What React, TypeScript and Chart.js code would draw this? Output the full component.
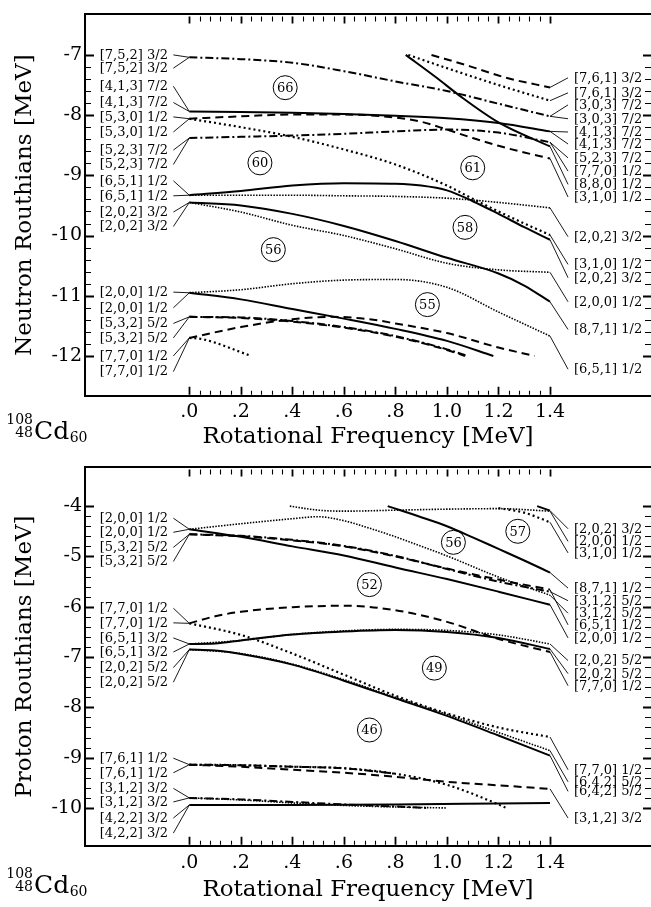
import React, { useEffect, useRef } from 'react';
import { Chart, registerables } from 'chart.js';
Chart.register(...registerables);

type P = [number, number];

// ---------- axes ----------
const X_TICKS = [0, 0.2, 0.4, 0.6, 0.8, 1.0, 1.2, 1.4];
const X_TICK_LABELS = ['.0', '.2', '.4', '.6', '.8', '1.0', '1.2', '1.4'];
const N_Y_TICKS = [-7, -8, -9, -10, -11, -12];
const N_Y_TICK_LABELS = ['-7', '-8', '-9', '-10', '-11', '-12'];
const P_Y_TICKS = [-4, -5, -6, -7, -8, -9, -10];
const P_Y_TICK_LABELS = ['-4', '-5', '-6', '-7', '-8', '-9', '-10'];

// ---------- neutron Routhians (omega, E) ----------
const N_752_DD: P[] = [[0, -7.04], [0.2, -7.07], [0.4, -7.13], [0.6, -7.27], [0.8, -7.44], [1.0, -7.60], [1.2, -7.81], [1.4, -8.02]];
const N_761_DA: P[] = [[0.94, -7.0], [1.09, -7.19], [1.23, -7.38], [1.4, -7.54]];
const N_761_DT: P[] = [[0.85, -7.0], [1.0, -7.22], [1.2, -7.50], [1.4, -7.76]];
const N_STEEP_SO: P[] = [[0.84, -7.0], [0.96, -7.38], [1.05, -7.68], [1.2, -8.12], [1.4, -8.52]];
const N_413_SO: P[] = [[0, -7.94], [0.2, -7.95], [0.4, -7.96], [0.6, -7.98], [0.8, -8.01], [1.0, -8.05], [1.2, -8.13], [1.4, -8.27]];
const N_530_DA: P[] = [[0, -8.06], [0.2, -8.02], [0.4, -7.99], [0.6, -7.99], [0.8, -8.04], [0.9, -8.11], [1.0, -8.24], [1.1, -8.38], [1.2, -8.51], [1.3, -8.62], [1.4, -8.72]];
const N_530_DT: P[] = [[0, -8.06], [0.2, -8.20], [0.4, -8.36], [0.6, -8.57], [0.8, -8.82], [1.0, -9.17], [1.1, -9.39], [1.2, -9.60], [1.3, -9.80], [1.4, -9.99]];
const N_523_DD: P[] = [[0, -8.38], [0.2, -8.36], [0.4, -8.34], [0.6, -8.31], [0.8, -8.27], [1.0, -8.24], [1.2, -8.29], [1.4, -8.45]];
const N_651_SO: P[] = [[0, -9.33], [0.2, -9.26], [0.4, -9.17], [0.6, -9.13], [0.8, -9.14], [0.9, -9.17], [1.0, -9.25], [1.1, -9.43], [1.2, -9.64], [1.3, -9.86], [1.4, -10.07]];
const N_651_FD: P[] = [[0, -9.33], [0.2, -9.33], [0.4, -9.33], [0.6, -9.34], [0.8, -9.35], [1.0, -9.38], [1.2, -9.45], [1.4, -9.54]];
const N_202_SO: P[] = [[0, -9.45], [0.2, -9.50], [0.4, -9.64], [0.6, -9.84], [0.8, -10.09], [1.0, -10.37], [1.2, -10.63], [1.3, -10.83], [1.4, -11.10]];
const N_202_FD: P[] = [[0, -9.45], [0.2, -9.61], [0.4, -9.83], [0.6, -10.00], [0.8, -10.22], [1.0, -10.46], [1.2, -10.57], [1.4, -10.61]];
const N_200_SO: P[] = [[0, -10.95], [0.2, -11.06], [0.4, -11.22], [0.6, -11.38], [0.8, -11.55], [1.0, -11.75], [1.18, -12.0]];
const N_200_FD: P[] = [[0, -10.95], [0.2, -10.90], [0.4, -10.80], [0.6, -10.74], [0.8, -10.73], [1.0, -10.86], [1.2, -11.27], [1.4, -11.67]];
const N_532_DD: P[] = [[0, -11.35], [0.2, -11.36], [0.4, -11.42], [0.6, -11.52], [0.8, -11.67], [1.0, -11.89], [1.08, -12.0]];
const N_532_DA: P[] = [[0, -11.35], [0.2, -11.37], [0.4, -11.43], [0.6, -11.53], [0.8, -11.68], [1.0, -11.90], [1.07, -12.0]];
const N_770_DA: P[] = [[0, -11.70], [0.2, -11.52], [0.4, -11.39], [0.55, -11.35], [0.7, -11.39], [0.8, -11.46], [1.0, -11.62], [1.2, -11.86], [1.34, -12.0]];
const N_770_DT: P[] = [[0, -11.70], [0.05, -11.72], [0.24, -12.0]];

// ---------- proton Routhians (omega, E) ----------
const P_200_SO: P[] = [[0, -4.46], [0.2, -4.61], [0.4, -4.80], [0.6, -4.98], [0.8, -5.22], [1.0, -5.45], [1.2, -5.70], [1.4, -5.96]];
const P_200_FD: P[] = [[0, -4.46], [0.2, -4.35], [0.4, -4.25], [0.5, -4.21], [0.6, -4.29], [0.7, -4.44], [0.8, -4.61], [1.0, -4.99], [1.2, -5.41], [1.4, -5.77]];
const P_UP_FD: P[] = [[0.39, -4.0], [0.5, -4.08], [0.6, -4.10], [0.8, -4.08], [1.0, -4.06], [1.2, -4.05], [1.4, -4.10]];
const P_UP_DT: P[] = [[1.2, -4.04], [1.3, -4.13], [1.4, -4.32]];
const P_UP_SO: P[] = [[1.35, -4.0], [1.4, -4.09]];
const P_871_SO: P[] = [[0.77, -4.0], [0.9, -4.22], [1.0, -4.40], [1.1, -4.62], [1.2, -4.85], [1.3, -5.08], [1.4, -5.32]];
const P_532_DD: P[] = [[0, -4.56], [0.2, -4.59], [0.4, -4.67], [0.6, -4.79], [0.8, -4.99], [1.0, -5.25], [1.2, -5.50], [1.4, -5.70]];
const P_532_DA: P[] = [[0, -4.56], [0.2, -4.60], [0.4, -4.68], [0.6, -4.80], [0.8, -5.00], [1.0, -5.24], [1.2, -5.46], [1.4, -5.66]];
const P_770_DA: P[] = [[0, -6.33], [0.1, -6.19], [0.2, -6.10], [0.4, -6.01], [0.6, -5.98], [0.8, -6.07], [1.0, -6.30], [1.2, -6.64], [1.4, -6.90]];
const P_770_DT: P[] = [[0, -6.33], [0.2, -6.56], [0.4, -6.93], [0.6, -7.35], [0.8, -7.77], [1.0, -8.12], [1.2, -8.40], [1.4, -8.59]];
const P_651_SO: P[] = [[0, -6.74], [0.1, -6.73], [0.2, -6.67], [0.4, -6.55], [0.6, -6.49], [0.8, -6.46], [1.0, -6.50], [1.2, -6.62], [1.4, -6.84]];
const P_651_FD: P[] = [[0, -6.74], [0.2, -6.67], [0.4, -6.55], [0.6, -6.48], [0.8, -6.45], [1.0, -6.47], [1.2, -6.56], [1.4, -6.74]];
const P_202_SO: P[] = [[0, -6.85], [0.1, -6.87], [0.2, -6.94], [0.4, -7.15], [0.6, -7.47], [0.8, -7.82], [1.0, -8.17], [1.2, -8.56], [1.4, -8.96]];
const P_202_FD: P[] = [[0, -6.85], [0.2, -6.93], [0.4, -7.14], [0.6, -7.45], [0.8, -7.80], [1.0, -8.14], [1.2, -8.50], [1.4, -8.86]];
const P_761_DT: P[] = [[0, -9.14], [0.2, -9.15], [0.4, -9.18], [0.6, -9.21], [0.8, -9.32], [1.0, -9.54], [1.2, -9.93], [1.23, -10.0]];
const P_761_DA: P[] = [[0, -9.14], [0.2, -9.18], [0.4, -9.24], [0.6, -9.30], [0.8, -9.38], [1.0, -9.48], [1.2, -9.55], [1.4, -9.62]];
const P_761_DD: P[] = [[0, -9.14], [0.2, -9.15], [0.4, -9.18], [0.6, -9.21], [0.8, -9.32]];
const P_312_DD: P[] = [[0, -9.80], [0.2, -9.83], [0.4, -9.88], [0.6, -9.93], [0.8, -9.97], [0.92, -10.0]];
const P_312_FD: P[] = [[0, -9.80], [0.2, -9.84], [0.4, -9.90], [0.6, -9.95], [0.8, -9.98], [1.0, -10.0]];
const P_422_SO: P[] = [[0, -9.94], [0.4, -9.94], [0.8, -9.93], [1.2, -9.91], [1.4, -9.90]];

// ---------- orbital labels ----------
const N_LEFT_TEXT = ['[7,5,2] 3/2', '[7,5,2] 3/2', '[4,1,3] 7/2', '[4,1,3] 7/2', '[5,3,0] 1/2', '[5,3,0] 1/2', '[5,2,3] 7/2', '[5,2,3] 7/2', '[6,5,1] 1/2', '[6,5,1] 1/2', '[2,0,2] 3/2', '[2,0,2] 3/2', '[2,0,0] 1/2', '[2,0,0] 1/2', '[5,3,2] 5/2', '[5,3,2] 5/2', '[7,7,0] 1/2', '[7,7,0] 1/2'];
const N_LEFT_SERIES = ['n752dd', 'n752dd', 'n413so', 'n413so', 'n530da', 'n530dt', 'n523dd', 'n523dd', 'n651so', 'n651fd', 'n202so', 'n202fd', 'n200so', 'n200fd', 'n532dd', 'n532da', 'n770da', 'n770dt'];
const N_RIGHT_TEXT = ['[7,6,1] 3/2', '[7,6,1] 3/2', '[3,0,3] 7/2', '[3,0,3] 7/2', '[4,1,3] 7/2', '[4,1,3] 7/2', '[5,2,3] 7/2', '[7,7,0] 1/2', '[8,8,0] 1/2', '[3,1,0] 1/2', '[2,0,2] 3/2', '[3,1,0] 1/2', '[2,0,2] 3/2', '[2,0,0] 1/2', '[8,7,1] 1/2', '[6,5,1] 1/2'];
const N_RIGHT_SERIES = ['n761da', 'n761dt', 'n752dd', 'n752dd', 'n413so', 'n413so', 'n523dd', 'n523dd', 'nsteep', 'n530da', 'n651fd', 'n530dt', 'n651so', 'n202fd', 'n202so', 'n200fd'];
const P_LEFT_TEXT = ['[2,0,0] 1/2', '[2,0,0] 1/2', '[5,3,2] 5/2', '[5,3,2] 5/2', '[7,7,0] 1/2', '[7,7,0] 1/2', '[6,5,1] 3/2', '[6,5,1] 3/2', '[2,0,2] 5/2', '[2,0,2] 5/2', '[7,6,1] 1/2', '[7,6,1] 1/2', '[3,1,2] 3/2', '[3,1,2] 3/2', '[4,2,2] 3/2', '[4,2,2] 3/2'];
const P_LEFT_SERIES = ['p200so', 'p200fd', 'p532dd', 'p532da', 'p770da', 'p770dt', 'p651so', 'p651fd', 'p202so', 'p202fd', 'p761dt', 'p761da', 'p312dd', 'p312fd', 'p422so', 'p422so'];
const P_RIGHT_TEXT = ['[2,0,2] 3/2', '[2,0,0] 1/2', '[3,1,0] 1/2', '[8,7,1] 1/2', '[3,1,2] 5/2', '[3,1,2] 5/2', '[6,5,1] 1/2', '[2,0,0] 1/2', '[2,0,2] 5/2', '[2,0,2] 5/2', '[7,7,0] 1/2', '[7,7,0] 1/2', '[6,4,2] 5/2', '[6,4,2] 5/2', '[3,1,2] 3/2'];
const P_RIGHT_SERIES = ['pupso', 'pupfd', 'pupdt', 'p871so', 'p532dd', 'p200fd', 'p532da', 'p200so', 'p651fd', 'p651so', 'p770da', 'p770dt', 'p202fd', 'p202so', 'p761da'];

// particle numbers in circles
const N_CIRCLE_TEXT = ['66', '60', '61', '58', '56', '55'];
const P_CIRCLE_TEXT = ['57', '56', '52', '49', '46'];

// ---------- layout (label anchors in axis units, kept apart from values) ----------
const N_LEFT_AT = [-7.00, -7.22, -7.52, -7.79, -8.03, -8.28, -8.58, -8.82, -9.09, -9.34, -9.61, -9.85, -10.94, -11.20, -11.46, -11.70, -12.00, -12.26];
const N_RIGHT_AT = [-7.38, -7.63, -7.83, -8.06, -8.28, -8.48, -8.71, -8.93, -9.15, -9.36, -10.02, -10.48, -10.70, -11.10, -11.56, -12.22];
const P_LEFT_AT = [-4.24, -4.52, -4.82, -5.10, -6.03, -6.32, -6.62, -6.90, -7.21, -7.50, -9.01, -9.30, -9.61, -9.88, -10.20, -10.50];
const P_RIGHT_AT = [-4.45, -4.70, -4.93, -5.63, -5.88, -6.13, -6.36, -6.62, -7.07, -7.33, -7.57, -9.24, -9.48, -9.67, -10.20];
const N_CIRCLE_AT: P[] = [[0.372, -7.544], [0.274, -8.793], [1.100, -8.875], [1.070, -9.864], [0.326, -10.234], [0.924, -11.147]];
const P_CIRCLE_AT: P[] = [[1.275, -4.50], [1.025, -4.72], [0.699, -5.56], [0.951, -7.22], [0.699, -8.45]];

const FONT = "'DejaVu Serif', serif";

type Style = 'solid' | 'dash' | 'dot' | 'fine' | 'dashdot';
const STYLES: Record<Style, { borderWidth: number; borderDash: number[] }> = {
  solid: { borderWidth: 2, borderDash: [] },
  dash: { borderWidth: 2, borderDash: [8, 5] },
  dot: { borderWidth: 2.2, borderDash: [2, 3] },
  fine: { borderWidth: 1.6, borderDash: [1.5, 1.4] },
  dashdot: { borderWidth: 2, borderDash: [8, 3, 2, 3] },
};

interface Series { id: string; pts: P[]; style: Style }

const NEUTRON: Series[] = [
  { id: 'n752dd', pts: N_752_DD, style: 'dashdot' },
  { id: 'n761da', pts: N_761_DA, style: 'dash' },
  { id: 'n761dt', pts: N_761_DT, style: 'dot' },
  { id: 'nsteep', pts: N_STEEP_SO, style: 'solid' },
  { id: 'n413so', pts: N_413_SO, style: 'solid' },
  { id: 'n530da', pts: N_530_DA, style: 'dash' },
  { id: 'n530dt', pts: N_530_DT, style: 'dot' },
  { id: 'n523dd', pts: N_523_DD, style: 'dashdot' },
  { id: 'n651so', pts: N_651_SO, style: 'solid' },
  { id: 'n651fd', pts: N_651_FD, style: 'fine' },
  { id: 'n202so', pts: N_202_SO, style: 'solid' },
  { id: 'n202fd', pts: N_202_FD, style: 'fine' },
  { id: 'n200so', pts: N_200_SO, style: 'solid' },
  { id: 'n200fd', pts: N_200_FD, style: 'fine' },
  { id: 'n532dd', pts: N_532_DD, style: 'dashdot' },
  { id: 'n532da', pts: N_532_DA, style: 'dash' },
  { id: 'n770da', pts: N_770_DA, style: 'dash' },
  { id: 'n770dt', pts: N_770_DT, style: 'dot' },
];

const PROTON: Series[] = [
  { id: 'p200so', pts: P_200_SO, style: 'solid' },
  { id: 'p200fd', pts: P_200_FD, style: 'fine' },
  { id: 'pupfd', pts: P_UP_FD, style: 'fine' },
  { id: 'pupdt', pts: P_UP_DT, style: 'dot' },
  { id: 'pupso', pts: P_UP_SO, style: 'solid' },
  { id: 'p871so', pts: P_871_SO, style: 'solid' },
  { id: 'p532dd', pts: P_532_DD, style: 'dashdot' },
  { id: 'p532da', pts: P_532_DA, style: 'dash' },
  { id: 'p770da', pts: P_770_DA, style: 'dash' },
  { id: 'p770dt', pts: P_770_DT, style: 'dot' },
  { id: 'p651so', pts: P_651_SO, style: 'solid' },
  { id: 'p651fd', pts: P_651_FD, style: 'fine' },
  { id: 'p202so', pts: P_202_SO, style: 'solid' },
  { id: 'p202fd', pts: P_202_FD, style: 'fine' },
  { id: 'p761dt', pts: P_761_DT, style: 'dot' },
  { id: 'p761da', pts: P_761_DA, style: 'dash' },
  { id: 'p761dd', pts: P_761_DD, style: 'dashdot' },
  { id: 'p312dd', pts: P_312_DD, style: 'dashdot' },
  { id: 'p312fd', pts: P_312_FD, style: 'fine' },
  { id: 'p422so', pts: P_422_SO, style: 'solid' },
];

interface PanelCfg {
  series: Series[];
  yMin: number; yMax: number;
  yTicks: number[]; yTickLabels: string[];
  yTitle: string;
  leftText: string[]; leftAt: number[]; leftSeries: string[];
  rightText: string[]; rightAt: number[]; rightSeries: string[];
  circleText: string[]; circleAt: P[];
  height: number; areaTop: number; areaBottom: number;
  xLabelPad: number; xTitlePad: number;
}

const X_MIN = -0.405;
const X_MAX = 1.792;

const annotPlugin = {
  id: 'annot',
  afterDatasetsDraw(chart: any, _a: any, opts: any) {
    const cfg: PanelCfg = opts.cfg;
    const { ctx, chartArea: area } = chart;
    const xs = chart.scales.x;
    const ys = chart.scales.y;
    const X = (v: number) => xs.getPixelForValue(v);
    const Y = (v: number) => ys.getPixelForValue(v);
    ctx.save();
    ctx.strokeStyle = '#000';
    ctx.fillStyle = '#000';

    // inward tick marks on the frame
    const x0 = X_TICKS[0];
    const xStep = (X_TICKS[1] - X_TICKS[0]) / 5;
    const nx = Math.round((X_TICKS[X_TICKS.length - 1] - x0) / xStep);
    for (let i = 0; i <= nx; i++) {
      const major = i % 5 === 0;
      const px = Math.round(X(x0 + i * xStep)) + 0.5;
      ctx.lineWidth = major ? 1.8 : 1.1;
      ctx.beginPath();
      ctx.moveTo(px, area.bottom - 1);
      ctx.lineTo(px, area.bottom - (major ? 9 : 5));
      ctx.moveTo(px, area.top + 2);
      ctx.lineTo(px, area.top + (major ? 9 : 7));
      ctx.stroke();
    }
    const yStep = 0.2;
    const yHi = cfg.yTicks[0];
    const yLo = cfg.yTicks[cfg.yTicks.length - 1];
    const ny = Math.round((yHi - yLo) / yStep);
    for (let i = 0; i <= ny; i++) {
      const major = i % 5 === 0;
      const py = Math.round(Y(yHi - i * yStep)) + 0.5;
      ctx.lineWidth = major ? 1.8 : 1.1;
      ctx.beginPath();
      ctx.moveTo(area.left + 1, py);
      ctx.lineTo(area.left + (major ? 9 : 6), py);
      ctx.moveTo(area.right, py);
      ctx.lineTo(area.right - (major ? 8 : 6), py);
      ctx.stroke();
    }

    // orbital labels + connectors
    const byId: Record<string, P[]> = {};
    cfg.series.forEach((s) => (byId[s.id] = s.pts));
    ctx.font = `13px ${FONT}`;
    ctx.textBaseline = 'middle';
    ctx.lineWidth = 0.9;
    ctx.textAlign = 'right';
    cfg.leftText.forEach((t, i) => {
      const y = Y(cfg.leftAt[i]);
      const pts = byId[cfg.leftSeries[i]];
      ctx.fillText(t, X(-0.083), y + 0.5);
      ctx.beginPath();
      ctx.moveTo(X(-0.062), y);
      ctx.lineTo(X(pts[0][0]), Y(pts[0][1]));
      ctx.stroke();
    });
    ctx.textAlign = 'left';
    cfg.rightText.forEach((t, i) => {
      const y = Y(cfg.rightAt[i]);
      const pts = byId[cfg.rightSeries[i]];
      const last = pts[pts.length - 1];
      ctx.fillText(t, X(1.493), y + 0.5);
      ctx.beginPath();
      ctx.moveTo(X(last[0]), Y(last[1]));
      ctx.lineTo(X(1.47), y);
      ctx.stroke();
    });

    // circled particle numbers
    ctx.textAlign = 'center';
    ctx.font = `13px ${FONT}`;
    ctx.lineWidth = 1;
    cfg.circleText.forEach((t, i) => {
      const cx = X(cfg.circleAt[i][0]);
      const cy = Y(cfg.circleAt[i][1]);
      ctx.beginPath();
      ctx.arc(cx, cy, 12, 0, Math.PI * 2);
      ctx.stroke();
      ctx.fillText(t, cx, cy + 1);
    });

    // nuclide label
    const base = chart.height - 14;
    ctx.textBaseline = 'alphabetic';
    ctx.font = `14px ${FONT}`;
    ctx.textAlign = 'right';
    ctx.fillText('108', 33, base - 15);
    ctx.fillText('48', 33, base - 2);
    ctx.textAlign = 'left';
    ctx.font = `25px ${FONT}`;
    ctx.fillText('Cd', 34, base);
    const w = ctx.measureText('Cd').width;
    ctx.font = `14px ${FONT}`;
    ctx.fillText('60', 34 + w + 0.5, base + 3);
    ctx.restore();
  },
};

function buildConfig(cfg: PanelCfg): any {
  const datasets = cfg.series.map((s) => ({
    label: s.id,
    data: s.pts.map(([x, y]) => ({ x, y })),
    borderColor: '#000',
    backgroundColor: '#000',
    pointRadius: 0,
    fill: false,
    cubicInterpolationMode: 'monotone',
    borderCapStyle: 'butt',
    ...STYLES[s.style],
  }));
  const H = cfg.height;
  return {
    type: 'line',
    data: { datasets },
    plugins: [annotPlugin],
    options: {
      animation: false,
      responsive: false,
      devicePixelRatio: 1,
      layout: { padding: 0 },
      plugins: {
        legend: { display: false },
        tooltip: { enabled: false },
        annot: { cfg },
      },
      scales: {
        x: {
          type: 'linear',
          position: 'bottom',
          min: X_MIN,
          max: X_MAX,
          afterBuildTicks: (s: any) => { s.ticks = X_TICKS.map((v) => ({ value: v })); },
          afterFit: (s: any) => { s.height = H - cfg.areaBottom; },
          ticks: {
            autoSkip: false,
            maxRotation: 0,
            padding: cfg.xLabelPad,
            color: '#000',
            font: { family: FONT, size: 19 },
            callback: (v: number) => X_TICK_LABELS[X_TICKS.findIndex((t) => Math.abs(t - v) < 1e-6)] ?? '',
          },
          grid: { display: false, drawTicks: false },
          border: { display: true, width: 2, color: '#000' },
          title: {
            display: true,
            text: 'Rotational Frequency [MeV]',
            color: '#000',
            font: { family: FONT, size: 23 },
            padding: { top: 0, bottom: cfg.xTitlePad },
          },
        },
        xTop: {
          type: 'linear',
          axis: 'x',
          position: 'top',
          min: X_MIN,
          max: X_MAX,
          afterFit: (s: any) => { s.height = cfg.areaTop; },
          ticks: { display: false },
          grid: { display: false, drawTicks: false },
          border: { display: true, width: 2, color: '#000' },
        },
        y: {
          type: 'linear',
          position: 'left',
          min: cfg.yMin,
          max: cfg.yMax,
          afterBuildTicks: (s: any) => { s.ticks = cfg.yTicks.map((v) => ({ value: v })); },
          afterFit: (s: any) => { s.width = 85; },
          ticks: {
            autoSkip: false,
            padding: 3,
            color: '#000',
            font: { family: FONT, size: 19 },
            callback: (v: number) => cfg.yTickLabels[cfg.yTicks.findIndex((t) => Math.abs(t - v) < 1e-6)] ?? '',
          },
          grid: { display: false, drawTicks: false },
          border: { display: true, width: 2, color: '#000' },
          title: {
            display: true,
            text: cfg.yTitle,
            color: '#000',
            font: { family: FONT, size: 23 },
            padding: { top: 11, bottom: 0 },
          },
        },
      },
    },
  };
}

const NEUTRON_PANEL: PanelCfg = {
  series: NEUTRON,
  yMin: -12.66, yMax: -6.327,
  yTicks: N_Y_TICKS, yTickLabels: N_Y_TICK_LABELS,
  yTitle: 'Neutron Routhians [MeV]',
  leftText: N_LEFT_TEXT, leftAt: N_LEFT_AT, leftSeries: N_LEFT_SERIES,
  rightText: N_RIGHT_TEXT, rightAt: N_RIGHT_AT, rightSeries: N_RIGHT_SERIES,
  circleText: N_CIRCLE_TEXT, circleAt: N_CIRCLE_AT,
  height: 453, areaTop: 7, areaBottom: 395.7,
  xLabelPad: 5, xTitlePad: 2,
};

const PROTON_PANEL: PanelCfg = {
  series: PROTON,
  yMin: -10.75, yMax: -3.23,
  yTicks: P_Y_TICKS, yTickLabels: P_Y_TICK_LABELS,
  yTitle: 'Proton Routhians [MeV]',
  leftText: P_LEFT_TEXT, leftAt: P_LEFT_AT, leftSeries: P_LEFT_SERIES,
  rightText: P_RIGHT_TEXT, rightAt: P_RIGHT_AT, rightSeries: P_RIGHT_SERIES,
  circleText: P_CIRCLE_TEXT, circleAt: P_CIRCLE_AT,
  height: 454, areaTop: 4.3, areaBottom: 392.7,
  xLabelPad: 6, xTitlePad: 3,
};

function Panel({ cfg, top }: { cfg: PanelCfg; top: number }) {
  const ref = useRef<HTMLCanvasElement>(null);
  useEffect(() => {
    const chart = new Chart(ref.current as HTMLCanvasElement, buildConfig(cfg));
    return () => chart.destroy();
  }, [cfg]);
  return (
    <canvas
      ref={ref}
      width={651}
      height={cfg.height}
      style={{ position: 'absolute', left: 0, top, width: 651, height: cfg.height }}
    />
  );
}

export default function App() {
  return (
    <div style={{ position: 'absolute', left: 0, top: 0, width: 651, height: 907, background: '#fff', overflow: 'hidden' }}>
      <Panel cfg={NEUTRON_PANEL} top={0} />
      <Panel cfg={PROTON_PANEL} top={453} />
    </div>
  );
}
